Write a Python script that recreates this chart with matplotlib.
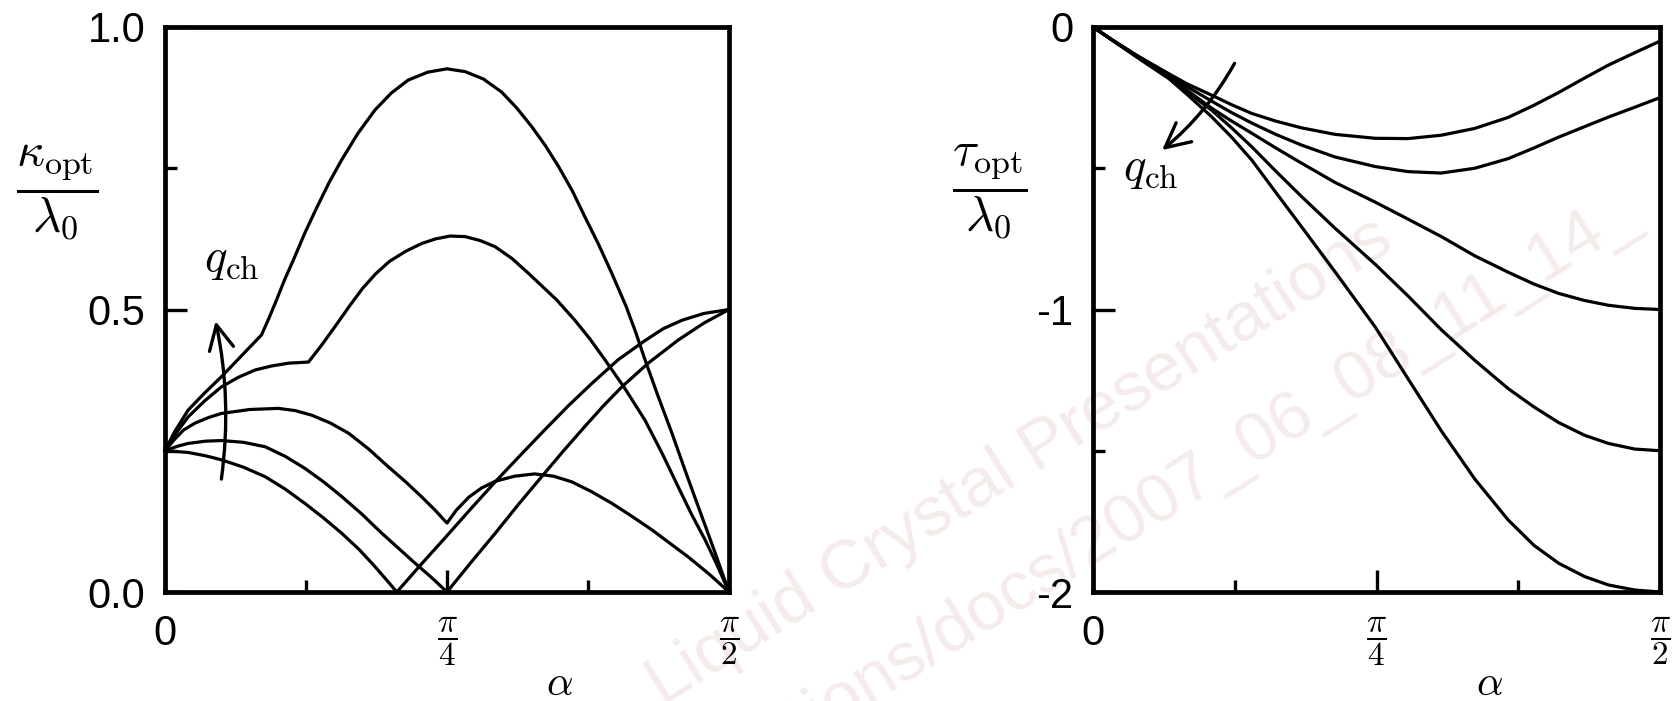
import numpy as np
import matplotlib
matplotlib.use("Agg")
import matplotlib.pyplot as plt
from matplotlib.patches import FancyArrowPatch

plt.rcParams['font.family'] = ['Liberation Sans', 'DejaVu Sans']
plt.rcParams['mathtext.fontset'] = 'cm'

# alpha in degrees, curvature / lambda_0 for increasing q_ch
kappa_a_x = [0, 3.7, 6.5, 9.0, 12.5, 16.0, 19.2, 22.3, 25.3, 28.2, 31.0, 33.5, 35.3, 37.0,
             40.8, 44.7, 48.7, 52.7, 56.7, 60.6, 64.4, 68.1, 72.3, 76.6, 79.5, 82.5, 86.0, 90]
kappa_a_y = [0.25, 0.247, 0.241, 0.234, 0.221, 0.204, 0.182, 0.157, 0.131, 0.104, 0.075, 0.045, 0.022, 0.0,
             0.048, 0.096, 0.146, 0.195, 0.242, 0.287, 0.330, 0.369, 0.411, 0.445, 0.466, 0.481, 0.493, 0.5]

kappa_b_x = [0, 2.0, 3.7, 6.5, 9.0, 12.5, 16.0, 19.2, 22.3, 25.3, 28.2, 31.4, 34.6, 37.3, 39.9, 42.5, 45.0,
             48.8, 52.7, 56.4, 60.1, 63.6, 67.0, 70.0, 72.9, 77.1, 81.9, 86.0, 90]
kappa_b_y = [0.25, 0.258, 0.263, 0.267, 0.268, 0.265, 0.257, 0.240, 0.219, 0.195, 0.169, 0.138, 0.104, 0.077, 0.051, 0.026, 0.0,
             0.052, 0.104, 0.155, 0.204, 0.250, 0.293, 0.330, 0.363, 0.405, 0.446, 0.476, 0.5]

kappa_c_x = [0, 1.5, 3.0, 4.8, 7.0, 9.0, 13.5, 18.1, 20.8, 23.4, 26.4, 29.3, 32.5, 35.6, 38.3, 40.9, 43.0, 45.0,
             46.5, 48.5, 50.5, 52.7, 55.8, 59.0, 62.0, 64.9, 68.0, 71.3, 74.5, 77.7, 80.6, 83.5, 86.8, 90]
kappa_c_y = [0.25, 0.270, 0.287, 0.299, 0.309, 0.316, 0.323, 0.325, 0.321, 0.313, 0.299, 0.281, 0.253, 0.222, 0.196, 0.169, 0.146, 0.122,
             0.145, 0.168, 0.184, 0.196, 0.205, 0.209, 0.205, 0.195, 0.178, 0.157, 0.134, 0.110, 0.086, 0.062, 0.032, 0.0]

kappa_d_x = [0, 1.5, 3.7, 6.3, 9.0, 11.7, 14.4, 17.0, 19.7, 22.9, 25.0, 27.4, 29.5, 31.5, 33.6, 35.8, 38.4, 41.0, 43.2,
             45.5, 47.9, 50.3, 52.7, 55.4, 58.0, 60.3, 62.5, 65.4, 67.8, 70.2, 73.4, 76.6, 79.3, 81.9, 84.0, 86.2, 88.0, 90]
kappa_d_y = [0.25, 0.277, 0.310, 0.338, 0.363, 0.380, 0.393, 0.400, 0.405, 0.407, 0.437, 0.474, 0.507, 0.537, 0.563, 0.585, 0.603, 0.617, 0.625,
             0.630, 0.629, 0.622, 0.611, 0.590, 0.564, 0.540, 0.517, 0.481, 0.448, 0.411, 0.360, 0.304, 0.246, 0.186, 0.138, 0.092, 0.050, 0.0]

kappa_e_x = [0, 1.5, 3.7, 6.3, 9.0, 12.2, 15.4, 16.6, 17.8, 19.1, 20.5, 22.3, 24.2, 26.2, 28.2, 30.8, 33.5, 36.1, 38.8, 41.9,
             45.0, 47.9, 50.8, 53.7, 56.1, 58.5, 60.7, 62.8, 65.0, 67.0, 69.2, 71.3, 73.6, 75.1, 76.6, 78.7, 80.9, 83.0, 85.1, 87.5, 90]
kappa_e_y = [0.25, 0.283, 0.322, 0.352, 0.381, 0.418, 0.455, 0.485, 0.517, 0.553, 0.588, 0.635, 0.680, 0.725, 0.765, 0.812, 0.853, 0.883, 0.906, 0.920,
             0.926, 0.921, 0.908, 0.885, 0.857, 0.824, 0.790, 0.753, 0.710, 0.664, 0.615, 0.564, 0.505, 0.460, 0.411, 0.346, 0.281, 0.215, 0.151, 0.078, 0.0]

# torsion / lambda_0 for increasing q_ch
tau_x = [0, 3, 6.7, 9.5, 12, 15, 18.8, 22, 25.2, 29, 33.1, 38.4, 44.8, 50, 55.3, 60.6, 65.9, 70, 73.9, 78, 81.8, 86, 90]
tau_1 = [0, -0.045, -0.097, -0.133, -0.165, -0.202, -0.241, -0.275, -0.306, -0.333, -0.357, -0.380, -0.394, -0.395,
         -0.383, -0.359, -0.320, -0.277, -0.232, -0.181, -0.135, -0.091, -0.05]
tau_2 = [0, -0.045, -0.098, -0.136, -0.168, -0.212, -0.262, -0.303, -0.340, -0.380, -0.418, -0.460, -0.494, -0.512,
         -0.517, -0.500, -0.466, -0.428, -0.390, -0.353, -0.319, -0.284, -0.25]
tau_3 = [0, -0.045, -0.099, -0.138, -0.172, -0.225, -0.287, -0.333, -0.376, -0.428, -0.482, -0.550, -0.620, -0.680,
         -0.742, -0.810, -0.868, -0.910, -0.943, -0.968, -0.985, -0.996, -1.0]
tau_4 = [0, -0.046, -0.100, -0.140, -0.175, -0.230, -0.294, -0.357, -0.424, -0.510, -0.600, -0.712, -0.840, -0.952,
         -1.072, -1.180, -1.280, -1.345, -1.400, -1.445, -1.474, -1.494, -1.5]
tau_5 = [0, -0.046, -0.103, -0.145, -0.182, -0.240, -0.317, -0.390, -0.471, -0.585, -0.707, -0.866, -1.062, -1.245,
         -1.430, -1.600, -1.745, -1.835, -1.898, -1.945, -1.975, -1.993, -2.0]

x_ticks = [0, 45, 90]
x_minor = [22.5, 67.5]
x_labels = ['0', r'$\dfrac{\pi}{4}$', r'$\dfrac{\pi}{2}$']

LW = 2.3
W, H = 1677, 701
fig = plt.figure(figsize=(W / 100, H / 100), dpi=100)
ax1 = fig.add_axes([165 / W, 109 / H, 564 / W, 565 / H])
ax2 = fig.add_axes([1093 / W, 109 / H, 567 / W, 565 / H])

for xs, ys in [(kappa_a_x, kappa_a_y), (kappa_b_x, kappa_b_y), (kappa_c_x, kappa_c_y),
               (kappa_d_x, kappa_d_y), (kappa_e_x, kappa_e_y)]:
    ax1.plot(xs, ys, color='black', lw=LW, clip_on=False, solid_joinstyle='round')
for ys in [tau_1, tau_2, tau_3, tau_4, tau_5]:
    ax2.plot(tau_x, ys, color='black', lw=LW, clip_on=False, solid_joinstyle='round')

ax1.set_ylim(0, 1)
ax1.set_yticks([0, 0.5, 1.0])
ax1.set_yticklabels(['0.0', '0.5', '1.0'])
ax1.set_yticks([0.25, 0.75], minor=True)
ax2.set_ylim(-2, 0)
ax2.set_yticks([0, -1, -2])
ax2.set_yticklabels(['0', '-1', '-2'])
ax2.set_yticks([-0.5, -1.5], minor=True)

for ax in (ax1, ax2):
    ax.set_facecolor('none')
    ax.set_xlim(0, 90)
    ax.set_xticks(x_ticks)
    ax.set_xticklabels(x_labels)
    ax.set_xticks(x_minor, minor=True)
    ax.set_yticklabels([], minor=True)
    for s in ax.spines.values():
        s.set_linewidth(3.4)
    ax.tick_params(which='both', direction='in', top=False, right=False, width=2.4)
    ax.tick_params(which='major', length=16)
    ax.tick_params(which='minor', length=8.5)
    ax.tick_params(axis='y', which='major', labelsize=30, pad=14)
    ax.tick_params(axis='x', which='major', pad=16)
    for i, lab in enumerate(ax.get_xticklabels()):
        lab.set_fontsize(30 if i == 0 else 24)
    ax.text(0.70, -0.163, r'$\alpha$', transform=ax.transAxes, fontsize=30,
            ha='center', va='center')

ax1.text(-0.191, 0.708, r'$\dfrac{\kappa_{\rm opt}}{\lambda_0}$', transform=ax1.transAxes,
         fontsize=35, ha='center', va='center')
ax2.text(-0.183, 0.708, r'$\dfrac{\tau_{\rm opt}}{\lambda_0}$', transform=ax2.transAxes,
         fontsize=35, ha='center', va='center')

# q_ch direction markers
arrow_kw = dict(arrowstyle='->,head_length=0.8,head_width=0.4', mutation_scale=22,
                lw=2.4, color='black', clip_on=False)
ax1.text(0.118, 0.588, r'$q_{\rm ch}$', transform=ax1.transAxes, fontsize=34,
         ha='center', va='center')
ax1.add_patch(FancyArrowPatch((0.0993, 0.195), (0.0887, 0.484), transform=ax1.transAxes,
                              connectionstyle='arc3,rad=0.09', **arrow_kw))
ax2.text(0.101, 0.748, r'$q_{\rm ch}$', transform=ax2.transAxes, fontsize=34,
         ha='center', va='center')
ax2.add_patch(FancyArrowPatch((0.252, 0.940), (0.118, 0.779), transform=ax2.transAxes,
                              connectionstyle='arc3,rad=-0.1', **arrow_kw))

# faint stamp behind the plots
wm = dict(rotation=32, rotation_mode='anchor', color='#f6ebeb', fontsize=50,
          zorder=-1, family='Liberation Sans')
fig.text(1020 / W, 1 - 462 / H, 'Liquid Crystal Presentations', ha='center', va='center', **wm)
fig.text(560 / W, 1 - 874 / H, 'Presentations/docs/2007_06_08_11_14_', ha='left', va='center', **wm)

fig.savefig('out.png', dpi=100)
